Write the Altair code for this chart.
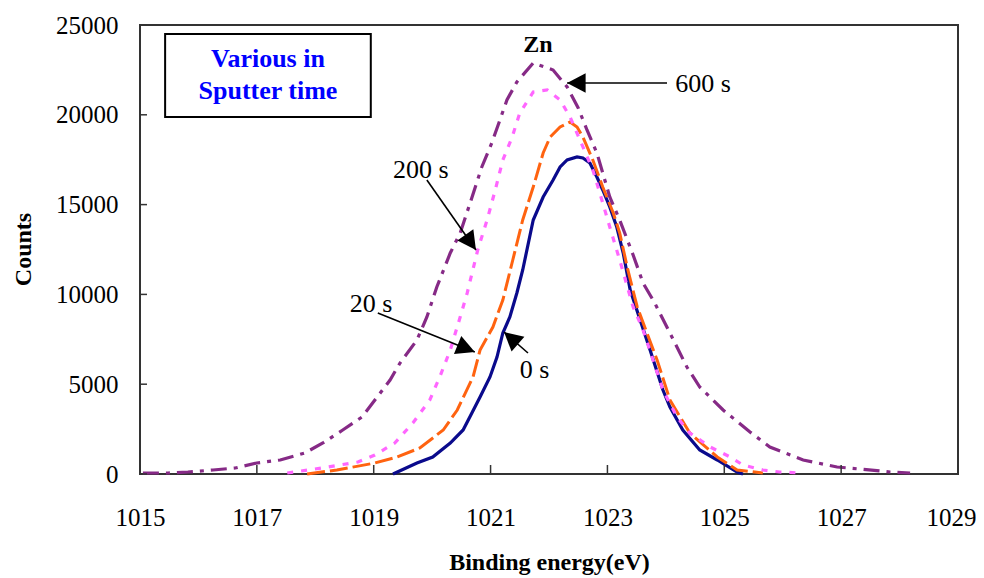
import altair as alt
import pandas as pd

# ---------------- data ----------------
# 0 s (navy, solid)
e_0s = [1019.33, 1019.74, 1020.01, 1020.31, 1020.53, 1020.68, 1020.82, 1020.99, 1021.11, 1021.21,
        1021.33, 1021.45, 1021.55, 1021.73, 1021.90, 1022.07, 1022.19, 1022.31, 1022.48, 1022.58,
        1022.70, 1022.82, 1022.92, 1023.04, 1023.16, 1023.27, 1023.39, 1023.73, 1023.95, 1024.07,
        1024.29, 1024.58, 1024.88, 1025.22, 1025.32]
c_0s = [0, 612, 947, 1726, 2450, 3396, 4287, 5401, 6514, 7851,
        8742, 10078, 11359, 14143, 15423, 16370, 17094, 17484, 17651, 17595,
        17317, 16537, 15813, 14867, 13753, 12305, 10245, 6904, 4677, 3731,
        2450, 1336, 780, 111, 0]

# 20 s (orange, long dash)
e_20s = [1017.86, 1018.37, 1019.02, 1019.40, 1019.79, 1020.19, 1020.43, 1020.70, 1020.82, 1021.04,
         1021.21, 1021.38, 1021.55, 1021.73, 1021.90, 1022.02, 1022.19, 1022.36, 1022.48, 1022.58,
         1022.75, 1022.92, 1023.10, 1023.21, 1023.35, 1023.51, 1023.85, 1024.07, 1024.41, 1024.88,
         1025.22, 1025.66]
c_20s = [0, 223, 612, 947, 1448, 2450, 3564, 5401, 6904, 8185,
         9688, 11916, 14143, 15980, 17873, 18764, 19321, 19599, 19321, 18764,
         17484, 15980, 14533, 13419, 11359, 9299, 6348, 4120, 2283, 947,
         223, 56]

# 200 s (pink, dotted)
e_200s = [1017.52, 1018.11, 1018.42, 1018.73, 1019.02, 1019.36, 1019.67, 1019.96, 1020.13, 1020.31,
          1020.48, 1020.60, 1020.78, 1020.94, 1021.08, 1021.21, 1021.37, 1021.50, 1021.73, 1021.97,
          1022.19, 1022.36, 1022.53, 1022.75, 1022.87, 1023.04, 1023.21, 1023.44, 1023.61, 1023.78,
          1023.95, 1024.19, 1024.41, 1024.76, 1025.10, 1025.32, 1025.66, 1025.95, 1026.30]
c_200s = [56, 334, 501, 668, 1058, 1726, 2840, 4120, 5401, 6904,
          8742, 10078, 12472, 14143, 15813, 17484, 18764, 20100, 21270, 21381,
          20824, 19878, 18597, 16927, 15646, 13753, 11916, 9299, 8018, 6348,
          4677, 3174, 2283, 1503, 947, 501, 223, 111, 56]

# 600 s (purple, dash-dot)
e_600s = [1015.05, 1015.48, 1015.82, 1016.25, 1016.63, 1017.00, 1017.40, 1017.82, 1018.13, 1018.47,
          1018.80, 1019.06, 1019.28, 1019.45, 1019.74, 1019.91, 1020.08, 1020.31, 1020.48, 1020.65,
          1020.85, 1021.02, 1021.16, 1021.28, 1021.45, 1021.73, 1022.07, 1022.31, 1022.50, 1022.65,
          1022.82, 1022.92, 1023.04, 1023.21, 1023.44, 1023.61, 1023.81, 1024.07, 1024.36, 1024.58,
          1024.98, 1025.44, 1025.78, 1026.35, 1026.93, 1027.32, 1027.84, 1028.18]
c_600s = [56, 56, 111, 223, 334, 612, 780, 1169, 1726, 2450,
          3174, 4287, 5234, 6180, 7461, 8742, 10412, 12305, 13419, 15089,
          17094, 18430, 19711, 20824, 21827, 22884, 22495, 21548, 20379, 19154,
          17873, 16760, 15423, 14143, 12194, 10635, 9521, 7851, 5958, 4844,
          3564, 2339, 1503, 780, 390, 278, 111, 56]

x_ticks = [1015, 1017, 1019, 1021, 1023, 1025, 1027, 1029]
y_ticks = [0, 5000, 10000, 15000, 20000, 25000]

# annotation labels (text, left x, baseline y in data units)
label_text = ["600 s", "200 s", "20 s", "0 s"]
label_x = [1024.16, 1019.33, 1018.59, 1021.50]
label_y = [21270, 16481, 9020, 5345]

# arrows: start (x, y) -> tip (x2, y2), heading in degrees
arrow_x = [1024.02, 1019.91, 1019.07, 1021.64]
arrow_y = [21771, 16370, 8964, 6737]
arrow_x2 = [1022.31, 1020.75, 1020.73, 1021.23]
arrow_y2 = [21771, 12472, 6793, 7907]
arrow_angle = [270, 145, 112, 311]

# text box
box_x, box_x2 = [1015.43], [1018.95]
box_y, box_y2 = [24499], [19878]
box_lines = ["Various in", "Sputter time"]
box_line_x = [1017.19, 1017.19]
box_line_y = [22662, 20880]

zn_x, zn_y = [1021.81], [23497]

# ---------------- chart ----------------
W, H = 818, 449
FONT = "Liberation Serif"

xs = alt.Scale(domain=[1015, 1029], nice=False, zero=False)
ys = alt.Scale(domain=[0, 25000], nice=False, zero=False)

X_AX = alt.Axis(values=x_ticks, format="d", title="Binding energy(eV)",
                labelPadding=31, labelFlush=False, labelOverlap=False,
                labelOffset={"condition": {"test": "datum.value >= 1029", "value": -7}, "value": 0},
                titleY=95, titleBaseline="alphabetic",
                titleFontWeight="bold", titleFontSize=24)
Y_AX = alt.Axis(values=y_ticks, format="d", title="Counts",
                labelPadding=22, labelFlush=False, labelOverlap=False,
                titleX=-117, titleY=224, titleAngle=270,
                titleAlign="center", titleBaseline="middle",
                titleFontWeight="bold", titleFontSize=24)


def X(f):
    return alt.X(f, scale=xs, axis=X_AX)


def Y(f):
    return alt.Y(f, scale=ys, axis=Y_AX)


def series(e, c, color, dash, width=3):
    df = pd.DataFrame({"e": e, "c": c})
    mark_kw = dict(color=color, strokeWidth=width, interpolate="linear")
    if dash:
        mark_kw["strokeDash"] = dash
    return alt.Chart(df).mark_line(**mark_kw).encode(
        x=X("e:Q"), y=Y("c:Q"), order="e:Q")


xt = alt.Chart(pd.DataFrame({"v": x_ticks})).mark_rule(color="#333333", strokeWidth=1.5).encode(
    x=X("v:Q"), y=alt.value(H), y2=alt.value(H - 9))
yt = alt.Chart(pd.DataFrame({"v": y_ticks})).mark_rule(color="#333333", strokeWidth=1.5).encode(
    y=Y("v:Q"), x=alt.value(0), x2=alt.value(7))

l0 = series(e_0s, c_0s, "#0A0A8C", None, 3.2)
l20 = series(e_20s, c_20s, "#FF6310", [18, 5], 3)
l200 = series(e_200s, c_200s, "#FF66FF", [6, 8], 3.2)
l600 = series(e_600s, c_600s, "#862A86", [16, 7, 4, 7], 3.2)

ann_df = pd.DataFrame({"t": label_text, "x": label_x, "y": label_y})
ann = alt.Chart(ann_df).mark_text(font=FONT, fontSize=26, align="left", baseline="alphabetic",
                                  color="black").encode(
    x=X("x:Q"), y=Y("y:Q"), text="t:N")

arr_df = pd.DataFrame({"x": arrow_x, "y": arrow_y, "x2": arrow_x2, "y2": arrow_y2, "a": arrow_angle})
arr_lines = alt.Chart(arr_df).mark_rule(color="black", strokeWidth=1.6).encode(
    x=X("x:Q"), y=Y("y:Q"), x2="x2:Q", y2="y2:Q")
arr_heads = alt.Chart(arr_df).mark_point(shape="M0,0L-1,1.9L1,1.9Z", filled=True, size=380,
                                         color="black", opacity=1, strokeWidth=0).encode(
    x=X("x2:Q"), y=Y("y2:Q"), angle=alt.Angle("a:Q", scale=None))

box_df = pd.DataFrame({"x": box_x, "x2": box_x2, "y": box_y, "y2": box_y2})
box = alt.Chart(box_df).mark_rect(fill="white", stroke="black", strokeWidth=2).encode(
    x=X("x:Q"), x2="x2:Q", y=Y("y:Q"), y2="y2:Q")
box_txt = alt.Chart(pd.DataFrame({"t": box_lines, "x": box_line_x, "y": box_line_y})).mark_text(
    font=FONT, fontSize=26, fontWeight="bold", color="#0000FF", align="center",
    baseline="alphabetic").encode(
    x=X("x:Q"), y=Y("y:Q"), text="t:N")

zn = alt.Chart(pd.DataFrame({"t": ["Zn"], "x": zn_x, "y": zn_y})).mark_text(
    font=FONT, fontSize=24, fontWeight="bold", color="black", align="center",
    baseline="alphabetic").encode(
    x=X("x:Q"), y=Y("y:Q"), text="t:N")

chart = alt.layer(
    l0, l20, l200, l600, xt, yt, box, box_txt, zn, arr_lines, arr_heads, ann
).properties(
    width=W, height=H,
    autosize=alt.AutoSizeParams(type="none"),
    padding={"left": 132, "top": 17, "right": 18, "bottom": 104},
).configure_view(
    stroke="#333333", strokeWidth=2
).configure_axis(
    domain=False, ticks=False, tickSize=0, grid=False,
    labelFont=FONT, labelFontSize=25, labelColor="black",
    titleFont=FONT, titleColor="black",
)

chart.save("out.html", embed_options={"renderer": "svg", "actions": False})
